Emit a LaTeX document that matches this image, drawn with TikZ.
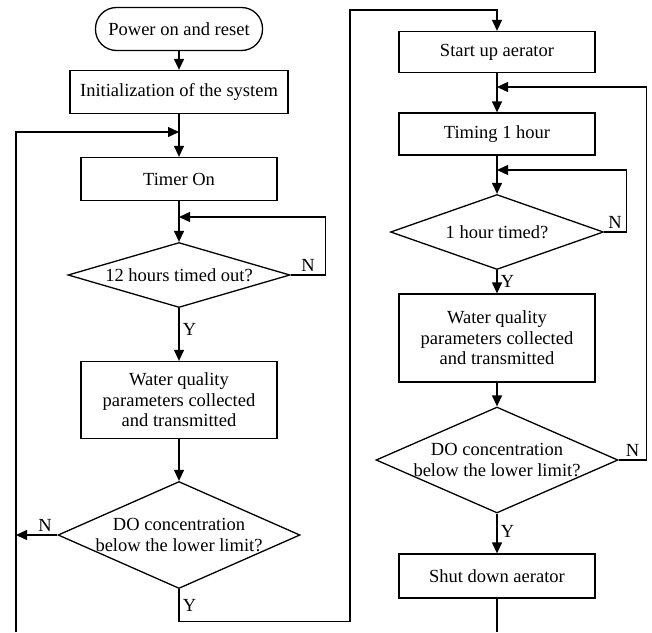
\documentclass[tikz,border=0pt]{standalone}
\usepackage{fontspec}
\setmainfont{Liberation Serif}
\usetikzlibrary{arrows.meta,shapes.geometric}

\begin{document}
\begin{tikzpicture}[x=1pt, y=-1pt, line width=1.3pt,
    font=\fontsize{18.5}{20.5}\selectfont,
    >={Triangle[length=11pt,width=10pt]},
    box/.style={draw, rectangle, minimum height=43pt, align=center},
    dec/.style={draw, diamond, inner sep=0pt},
    lbl/.style={inner sep=3pt}]
  \useasboundingbox (0,0) rectangle (652,632);
  % left column
  \node[box, rounded corners=21pt, minimum width=167pt] (N1) at (179,29) {Power on and reset};
  \node[box, minimum width=218pt] (N2) at (179,92) {Initialization of the system};
  \node[box, minimum width=196pt] (N3) at (179,179) {Timer On};
  \node[dec, minimum width=222pt, minimum height=65pt,
        label={center:12 hours timed out?}] (N4) at (179,275) {};
  \node[box, minimum width=196pt, minimum height=77pt] (N5) at (179,400)
        {Water quality\\parameters collected\\and transmitted};
  \node[dec, minimum width=242pt, minimum height=107pt,
        label={[align=center]center:DO concentration\\below the lower limit?}] (N6) at (179,535) {};
  % right column
  \node[box, minimum width=196pt, minimum height=41pt] (N7) at (497,52) {Start up aerator};
  \node[box, minimum width=196pt, minimum height=42pt] (N8) at (497,134) {Timing 1 hour};
  \node[dec, minimum width=213pt, minimum height=75pt,
        label={center:1 hour timed?}] (N9) at (497,232) {};
  \node[box, minimum width=196pt, minimum height=88pt] (N10) at (497,338)
        {Water quality\\parameters collected\\and transmitted};
  \node[dec, minimum width=242pt, minimum height=106pt,
        label={[align=center]center:DO concentration\\below the lower limit?}] (N11) at (497,460) {};
  \node[box, minimum width=196pt, minimum height=44pt] (N12) at (497,576) {Shut down aerator};
  % joins and free ends
  \coordinate (J1) at (179,132);
  \coordinate (J2) at (179,217);
  \coordinate (J3) at (497,87);
  \coordinate (J4) at (497,170);
  \coordinate (B1) at (16,632);
  \coordinate (B2) at (497,632);
  % left column flow
  \draw[->] (N1) -- (N2);
  \draw[->] (N2) -- (N3);
  \draw[->] (B1) |- (J1);
  \draw[->] (N3) -- (N4);
  \draw[->] (N4.east) -- node[lbl, above] {N} ++(35,0) |- (J2);
  \draw[->] (N4) -- node[right, pos=0.4] {Y} (N5);
  \draw[->] (N5) -- (N6);
  \draw[->] (N6.west) -- node[lbl, above, pos=0.3] {N} (N6.west -| B1);
  \draw[->] (N6.south) -- node[right] {Y} ++(0,32) -| (350,10) -| (N7.north);
  % right column flow
  \draw[->] (N7) -- (N8);
  \draw[->] (N8) -- (N9);
  \draw[->] (N9.east) -- node[lbl, above] {N} ++(22,0) |- (J4);
  \draw[->] (N9) -- node[right] {Y} (N10);
  \draw[->] (N10) -- (N11);
  \draw[->] (N11.east) -- node[lbl, above] {N} ++(28,0) |- (J3);
  \draw[->] (N11) -- node[right, pos=0.45] {Y} (N12);
  \draw (N12) -- (B2);
\end{tikzpicture}
\end{document}
